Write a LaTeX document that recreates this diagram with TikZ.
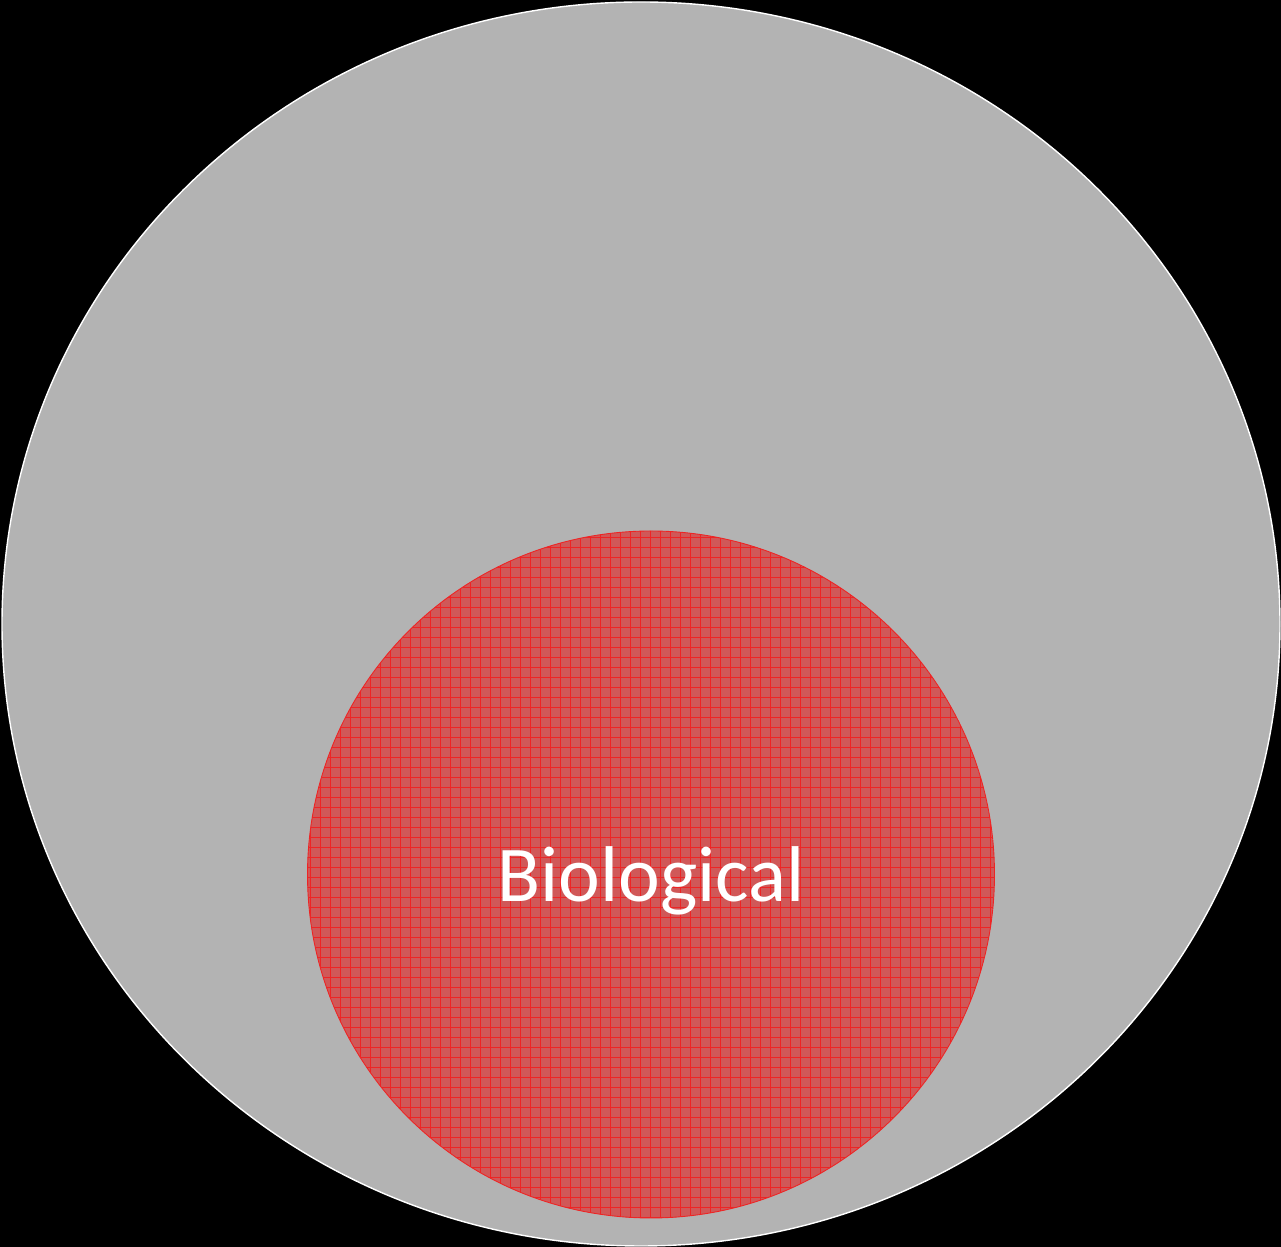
\documentclass[tikz,border=0pt]{standalone}
\usepackage{fontspec}
\setmainfont{Carlito}
\usepackage{tikz}

\definecolor{outergray}{RGB}{179,179,179}
\definecolor{bioback}{RGB}{208,88,88}
\definecolor{biogrid}{RGB}{238,36,36}

\begin{document}
\begin{tikzpicture}[scale=1]

% background
\fill[black] (0,0) rectangle (25.62,24.94);
\useasboundingbox (0,0) rectangle (25.62,24.94);

% outer circle
\draw[fill=outergray, draw=white, line width=0.8pt] (12.82,12.46) ellipse (12.78 and 12.44);

% inner circle with grid
\begin{scope}
  \clip (13.02,7.45) circle (6.87);
  \fill[bioback] (13.02,7.45) circle (6.87);
  \draw[biogrid, line width=0.55pt, step=0.2] (6.0,0.5) grid (20.2,14.4);
\end{scope}
\draw[biogrid, line width=0.5pt] (13.02,7.45) circle (6.87);

% label
\node[anchor=base, text=white, font=\fontsize{45}{48}\selectfont] (bio) at (13.02,6.9) {Biological};

\end{tikzpicture}
\end{document}
